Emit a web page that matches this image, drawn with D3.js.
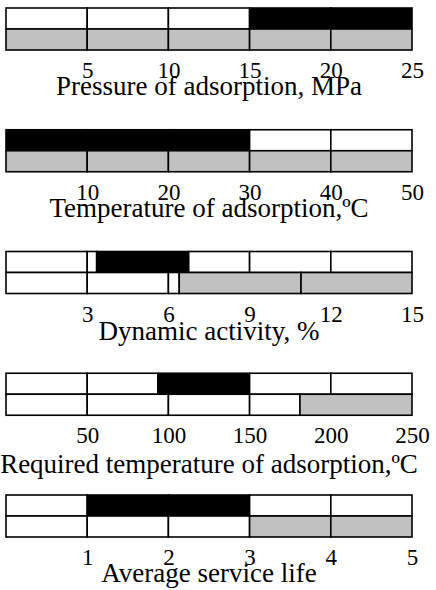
<!DOCTYPE html>
<html>
<head>
<meta charset="utf-8">
<script src="https://cdn.jsdelivr.net/npm/d3@7"></script>
<style>
  html, body { margin: 0; padding: 0; background: #fff; }
  svg { display: block; }
  text { font-family: "Liberation Serif", "Times New Roman", serif; fill: #000; }
</style>
</head>
<body>
<div id="chart"></div>
<script>
// axis titles, one per panel
const titles = [
    "Pressure of adsorption, MPa",
    "Temperature of adsorption,\u00baC",
    "Dynamic activity, %",
    "Required temperature of adsorption,\u00baC",
    "Average service life"
];
const domainMax = [25, 50, 15, 250, 5];
const tickLabels = [
    [5, 10, 15, 20, 25],
    [10, 20, 30, 40, 50],
    [3, 6, 9, 12, 15],
    [50, 100, 150, 200, 250],
    [1, 2, 3, 4, 5]
];
// upper row cells: [from, to, on]  (on = black)
const upperCells = [
    [[0, 5, 0], [5, 10, 0], [10, 15, 0], [15, 20, 1], [20, 25, 1]],
    [[0, 10, 1], [10, 20, 1], [20, 30, 1], [30, 40, 0], [40, 50, 0]],
    [[0, 3, 0], [3, 3.35, 0], [3.35, 6.75, 1], [6.75, 9, 0], [9, 12, 0], [12, 15, 0]],
    [[0, 50, 0], [50, 93.5, 0], [93.5, 150, 1], [150, 200, 0], [200, 250, 0]],
    [[0, 1, 0], [1, 2, 1], [2, 3, 1], [3, 4, 0], [4, 5, 0]]
];
// lower row cells: [from, to, on]  (on = grey)
const lowerCells = [
    [[0, 5, 1], [5, 10, 1], [10, 15, 1], [15, 20, 1], [20, 25, 1]],
    [[0, 10, 1], [10, 20, 1], [20, 30, 1], [30, 40, 1], [40, 50, 1]],
    [[0, 3, 0], [3, 6, 0], [6, 6.4, 0], [6.4, 10.9, 1], [10.9, 15, 1]],
    [[0, 50, 0], [50, 100, 0], [100, 150, 0], [150, 181, 0], [181, 250, 1]],
    [[0, 1, 0], [1, 2, 0], [2, 3, 0], [3, 4, 1], [4, 5, 1]]
];

const width = 436, height = 590;
const left = 6, right = 412;
const rowH = 21, panelStep = 121.75, firstTop = 8;
const titleGap = [45, 45, 46, 58, 45]; // baseline of title below the box

const svg = d3.select("#chart")
    .append("svg")
    .attr("width", width)
    .attr("height", height);

titles.forEach((title, i) => {
    const x = d3.scaleLinear().domain([0, domainMax[i]]).range([left, right]);
    const top = firstTop + i * panelStep;
    const g = svg.append("g").attr("transform", `translate(0,${top})`);

    const rows = [
        { cells: upperCells[i], y: 0, on: "#000" },
        { cells: lowerCells[i], y: rowH, on: "#c0c0c0" }
    ];
    rows.forEach(r => {
        g.selectAll(null)
            .data(r.cells)
            .join("rect")
            .attr("x", d => x(d[0]))
            .attr("y", r.y)
            .attr("width", d => x(d[1]) - x(d[0]))
            .attr("height", rowH)
            .attr("fill", d => d[2] ? r.on : "#fff")
            .attr("stroke", "#000")
            .attr("stroke-width", 1.6);
    });

    // tick labels only, no tick marks
    const axis = d3.axisBottom(x)
        .tickValues(tickLabels[i])
        .tickSize(0)
        .tickPadding(0)
        .tickFormat(d3.format("d"));
    const ax = g.append("g")
        .attr("transform", `translate(0,${2 * rowH})`)
        .call(axis);
    ax.select(".domain").remove();
    ax.selectAll("text")
        .attr("dy", null)
        .attr("y", 28)
        .style("font-family", "'Liberation Serif', serif")
        .style("font-size", "23px");

    g.append("text")
        .attr("x", (left + right) / 2)
        .attr("y", 2 * rowH + titleGap[i])
        .attr("text-anchor", "middle")
        .style("font-size", "27px")
        .text(title);
});
</script>
</body>
</html>
